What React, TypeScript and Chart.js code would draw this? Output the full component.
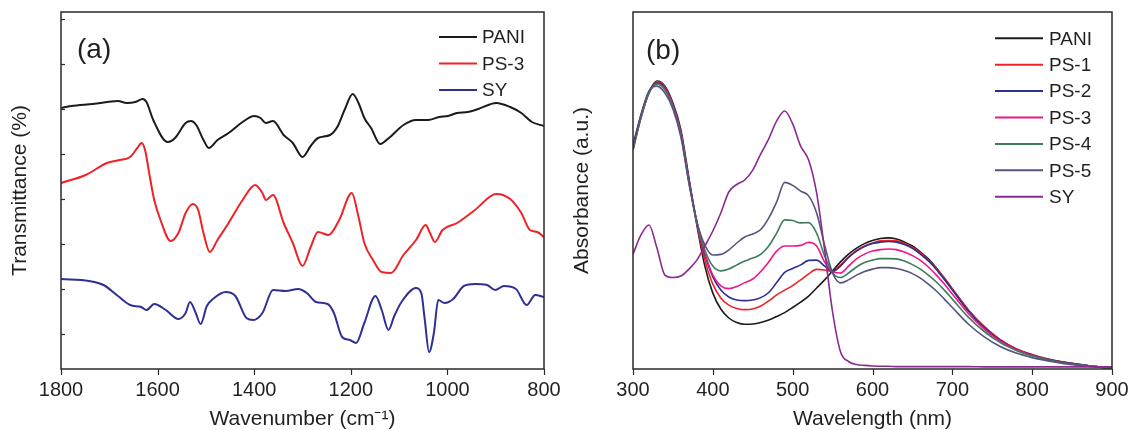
import React, { useEffect, useRef } from "react";
import { Chart, registerables } from "chart.js";

Chart.register(...registerables);

const FONT = "'Liberation Sans', Arial, Helvetica, sans-serif";
const TEXT = "#231f20";

// ---------- Panel (a): FTIR ----------
const aXTicks = [1800, 1600, 1400, 1200, 1000, 800];
const aYTicks = [0, 45, 90, 135, 180, 225, 270, 315];

const paniWn = [1800, 1779, 1734, 1682, 1664, 1646, 1631, 1623, 1609, 1579, 1564, 1542, 1531, 1520, 1505, 1494, 1476, 1453, 1424, 1400, 1387, 1376, 1361, 1339, 1320, 1300, 1283, 1268, 1243, 1228, 1213, 1196, 1184, 1172, 1158, 1139, 1121, 1091, 1065, 1040, 1017, 999, 980, 958, 936, 899, 870, 847, 825, 800];
const paniT = [226, 228, 230, 233, 231, 232, 235, 232, 214, 192, 196, 211, 213, 209, 194, 186, 194, 201, 212, 218, 216, 211, 213, 199, 191, 177, 188, 196, 199, 207, 224, 240, 231, 216, 206, 190, 196, 209, 214, 214, 217, 218, 221, 222, 225, 231, 227, 221, 212, 208];

const ps3Wn = [1800, 1749, 1705, 1679, 1657, 1642, 1633, 1626, 1616, 1607, 1594, 1573, 1557, 1542, 1527, 1516, 1505, 1492, 1476, 1453, 1424, 1398, 1383, 1376, 1361, 1339, 1320, 1300, 1283, 1268, 1246, 1224, 1198, 1184, 1172, 1154, 1136, 1117, 1091, 1065, 1045, 1036, 1026, 1010, 980, 943, 899, 870, 847, 829, 814, 800];
const ps3T = [151, 159, 171, 174, 177, 186, 191, 184, 157, 134, 114, 93, 101, 121, 130, 124, 101, 82, 94, 111, 134, 149, 141, 134, 139, 111, 91, 68, 87, 102, 99, 114, 141, 117, 91, 74, 62, 61, 79, 94, 109, 101, 92, 104, 111, 124, 140, 135, 121, 104, 102, 97];

const syWn = [1800, 1742, 1712, 1682, 1657, 1634, 1623, 1607, 1583, 1557, 1542, 1533, 1521, 1511, 1498, 1483, 1459, 1439, 1416, 1402, 1383, 1361, 1335, 1309, 1291, 1272, 1248, 1235, 1218, 1202, 1189, 1172, 1149, 1136, 1122, 1110, 1095, 1065, 1054, 1047, 1038, 1028, 1019, 1006, 988, 966, 943, 918, 901, 883, 858, 836, 818, 800];
const syT = [55, 53, 49, 38, 29, 27, 24, 30, 24, 15, 21, 32, 21, 10, 28, 36, 42, 38, 16, 14, 21, 44, 43, 45, 41, 32, 30, 21, -3, -6, -9, 11, 38, 24, 4, 18, 32, 46, 41, 15, -18, 1, 34, 31, 35, 48, 50, 49, 44, 48, 45, 29, 39, 37];

// ---------- Panel (b): UV-Vis ----------
const bXTicks = [300, 400, 500, 600, 700, 800, 900];
const wl = [300, 310, 320, 330, 340, 350, 360, 370, 380, 390, 400, 410, 420, 430, 440, 450, 460, 470, 480, 490, 500, 510, 520, 530, 540, 550, 560, 570, 580, 590, 600, 610, 620, 630, 640, 650, 660, 670, 680, 690, 700, 720, 740, 760, 780, 800, 820, 840, 860, 880, 900];
const absPani = [0.747, 0.847, 0.923, 0.960, 0.943, 0.887, 0.797, 0.637, 0.480, 0.343, 0.253, 0.200, 0.170, 0.155, 0.149, 0.150, 0.155, 0.163, 0.175, 0.188, 0.205, 0.223, 0.243, 0.270, 0.297, 0.327, 0.357, 0.383, 0.403, 0.418, 0.428, 0.435, 0.437, 0.433, 0.423, 0.410, 0.390, 0.367, 0.337, 0.303, 0.267, 0.197, 0.140, 0.097, 0.067, 0.047, 0.032, 0.022, 0.015, 0.008, 0.003];
const absPs1 = [0.737, 0.840, 0.920, 0.957, 0.940, 0.883, 0.790, 0.630, 0.483, 0.363, 0.283, 0.237, 0.213, 0.202, 0.198, 0.200, 0.210, 0.227, 0.247, 0.263, 0.278, 0.297, 0.317, 0.332, 0.330, 0.325, 0.347, 0.373, 0.395, 0.410, 0.420, 0.427, 0.428, 0.427, 0.418, 0.405, 0.387, 0.363, 0.335, 0.302, 0.267, 0.197, 0.142, 0.098, 0.068, 0.048, 0.033, 0.023, 0.015, 0.008, 0.003];
const absPs2 = [0.740, 0.843, 0.923, 0.953, 0.937, 0.880, 0.787, 0.630, 0.490, 0.380, 0.307, 0.263, 0.240, 0.230, 0.228, 0.230, 0.238, 0.255, 0.288, 0.322, 0.335, 0.347, 0.362, 0.363, 0.343, 0.325, 0.343, 0.372, 0.393, 0.408, 0.418, 0.423, 0.425, 0.423, 0.415, 0.402, 0.383, 0.360, 0.332, 0.298, 0.263, 0.193, 0.138, 0.095, 0.065, 0.047, 0.032, 0.022, 0.015, 0.008, 0.003];
const absPs3 = [0.733, 0.837, 0.920, 0.950, 0.933, 0.877, 0.783, 0.627, 0.490, 0.387, 0.313, 0.277, 0.268, 0.275, 0.288, 0.300, 0.325, 0.357, 0.393, 0.410, 0.410, 0.412, 0.422, 0.410, 0.357, 0.323, 0.320, 0.343, 0.367, 0.383, 0.393, 0.398, 0.400, 0.398, 0.390, 0.378, 0.362, 0.340, 0.313, 0.283, 0.250, 0.185, 0.133, 0.093, 0.065, 0.045, 0.030, 0.020, 0.013, 0.008, 0.003];
const absPs4 = [0.730, 0.837, 0.920, 0.950, 0.930, 0.873, 0.780, 0.623, 0.490, 0.397, 0.343, 0.327, 0.333, 0.347, 0.360, 0.370, 0.382, 0.410, 0.453, 0.497, 0.495, 0.487, 0.488, 0.453, 0.377, 0.320, 0.305, 0.320, 0.340, 0.355, 0.363, 0.368, 0.368, 0.367, 0.360, 0.348, 0.333, 0.313, 0.290, 0.263, 0.233, 0.173, 0.125, 0.088, 0.062, 0.043, 0.030, 0.020, 0.013, 0.008, 0.003];
const absPs5 = [0.730, 0.847, 0.927, 0.943, 0.920, 0.867, 0.773, 0.620, 0.490, 0.413, 0.380, 0.382, 0.397, 0.420, 0.440, 0.450, 0.465, 0.503, 0.557, 0.622, 0.612, 0.593, 0.577, 0.520, 0.413, 0.320, 0.287, 0.297, 0.313, 0.325, 0.333, 0.338, 0.338, 0.335, 0.328, 0.318, 0.303, 0.283, 0.260, 0.233, 0.205, 0.150, 0.107, 0.075, 0.053, 0.038, 0.027, 0.018, 0.012, 0.007, 0.003];
const absSy = [0.383, 0.447, 0.480, 0.403, 0.313, 0.305, 0.310, 0.333, 0.363, 0.410, 0.460, 0.520, 0.590, 0.615, 0.630, 0.663, 0.717, 0.767, 0.827, 0.860, 0.817, 0.743, 0.697, 0.587, 0.397, 0.190, 0.057, 0.025, 0.015, 0.012, 0.010, 0.009, 0.009, 0.008, 0.008, 0.008, 0.008, 0.008, 0.008, 0.008, 0.008, 0.008, 0.007, 0.007, 0.007, 0.007, 0.007, 0.007, 0.007, 0.007, 0.007];

const toPts = (xs: number[], ys: number[]) => xs.map((x, i) => ({ x, y: ys[i] }));

const framePlugin = {
  id: "frame",
  afterDatasetsDraw(chart: any, _args: any, opts: any) {
    const { ctx, chartArea, scales } = chart;
    const { left, right, top, bottom } = chartArea;
    ctx.save();
    ctx.strokeStyle = "#2a2a2a";
    ctx.lineWidth = 1.5;
    ctx.strokeRect(left, top, right - left, bottom - top);
    ctx.lineWidth = 1.2;
    (opts.xTicks || []).forEach((v: number) => {
      const px = Math.round(scales.x.getPixelForValue(v)) + 0.5;
      ctx.beginPath();
      ctx.moveTo(px, bottom);
      ctx.lineTo(px, bottom + 6);
      ctx.stroke();
    });
    (opts.yTicks || []).forEach((v: number) => {
      const py = Math.round(scales.y.getPixelForValue(v)) + 0.5;
      ctx.beginPath();
      ctx.moveTo(left, py);
      ctx.lineTo(left + 4, py);
      ctx.stroke();
    });
    // panel label
    ctx.fillStyle = TEXT;
    ctx.textBaseline = "middle";
    ctx.textAlign = "left";
    ctx.font = `28px ${FONT}`;
    ctx.fillText(opts.label, opts.labelX, opts.labelY);
    // legend
    ctx.font = `19px ${FONT}`;
    chart.data.datasets.forEach((ds: any, i: number) => {
      const y = opts.legY + i * opts.legDy;
      ctx.strokeStyle = ds.borderColor;
      ctx.lineWidth = 2;
      ctx.beginPath();
      ctx.moveTo(opts.legX1, y);
      ctx.lineTo(opts.legX2, y);
      ctx.stroke();
      ctx.fillStyle = TEXT;
      ctx.fillText(ds.label, opts.legText, y + 1);
    });
    ctx.restore();
  },
};

const tickFont = { family: FONT, size: 20 };
const titleFont = { family: FONT, size: 21, lineHeight: 1 };
const plainTick = (v: any) => String(v);

function lineDs(label: string, data: any[], color: string, width: number, order: number) {
  return {
    label,
    data,
    borderColor: color,
    backgroundColor: color,
    borderWidth: width,
    pointRadius: 0,
    cubicInterpolationMode: "monotone" as const,
    fill: false,
    order,
  };
}

function makeA(): any {
  return {
    type: "line",
    data: {
      datasets: [
        lineDs("PANI", toPts(paniWn, paniT), "#1b1b1b", 2, 3),
        lineDs("PS-3", toPts(ps3Wn, ps3T), "#ee2227", 2, 2),
        lineDs("SY", toPts(syWn, syT), "#2e3192", 2, 1),
      ],
    },
    options: {
      responsive: false,
      animation: false,
      devicePixelRatio: 1,
      layout: { padding: { left: 0, right: 21, top: 12, bottom: 0 }, autoPadding: false },
      plugins: {
        legend: { display: false },
        tooltip: { enabled: false },
        frame: {
          xTicks: aXTicks,
          yTicks: aYTicks,
          label: "(a)",
          labelX: 77,
          labelY: 50,
          legX1: 439,
          legX2: 477,
          legText: 482,
          legY: 37,
          legDy: 26.5,
        },
      },
      scales: {
        x: {
          type: "linear",
          reverse: true,
          min: 800,
          max: 1800,
          afterBuildTicks: (s: any) => {
            s.ticks = aXTicks.map((v) => ({ value: v }));
          },
          afterFit: (s: any) => {
            s.height = 61;
          },
          ticks: { autoSkip: false, maxRotation: 0, font: tickFont, color: TEXT, padding: 1, callback: plainTick },
          grid: { display: false },
          border: { display: false },
          title: { display: true, text: "Wavenumber (cm⁻¹)", font: titleFont, color: TEXT, padding: { top: 0, bottom: 0 } },
        },
        y: {
          type: "linear",
          min: -35,
          max: 322,
          afterFit: (s: any) => {
            s.width = 61;
          },
          ticks: { display: false },
          grid: { display: false },
          border: { display: false },
          title: { display: true, text: "Transmittance (%)", font: titleFont, color: TEXT, padding: { top: 10, bottom: 0 } },
        },
      },
    },
    plugins: [framePlugin],
  };
}

function makeB(): any {
  const names = ["PANI", "PS-1", "PS-2", "PS-3", "PS-4", "PS-5", "SY"];
  const series = [absPani, absPs1, absPs2, absPs3, absPs4, absPs5, absSy];
  const colors = ["#1b1b1b", "#ee2227", "#2b3090", "#ec178c", "#3e7d5a", "#55547e", "#8b2a91"];
  return {
    type: "line",
    data: {
      datasets: names.map((n, i) => lineDs(n, toPts(wl, series[i]), colors[i], 1.6, names.length - i)),
    },
    options: {
      responsive: false,
      animation: false,
      devicePixelRatio: 1,
      layout: { padding: { left: 0, right: 19, top: 12, bottom: 0 }, autoPadding: false },
      plugins: {
        legend: { display: false },
        tooltip: { enabled: false },
        frame: {
          xTicks: bXTicks,
          yTicks: [],
          label: "(b)",
          labelX: 81,
          labelY: 51,
          legX1: 430,
          legX2: 478,
          legText: 484,
          legY: 38.3,
          legDy: 26.4,
        },
      },
      scales: {
        x: {
          type: "linear",
          min: 300,
          max: 900,
          afterBuildTicks: (s: any) => {
            s.ticks = bXTicks.map((v) => ({ value: v }));
          },
          afterFit: (s: any) => {
            s.height = 61;
          },
          ticks: { autoSkip: false, maxRotation: 0, font: tickFont, color: TEXT, padding: 1, callback: plainTick },
          grid: { display: false },
          border: { display: false },
          title: { display: true, text: "Wavelength (nm)", font: titleFont, color: TEXT, padding: { top: 0, bottom: 0 } },
        },
        y: {
          type: "linear",
          min: 0,
          max: 1.19,
          afterFit: (s: any) => {
            s.width = 68;
          },
          ticks: { display: false },
          grid: { display: false },
          border: { display: false },
          title: { display: true, text: "Absorbance (a.u.)", font: titleFont, color: TEXT, padding: { top: 7, bottom: 0 } },
        },
      },
    },
    plugins: [framePlugin],
  };
}

export default function App() {
  const aRef = useRef<HTMLCanvasElement>(null);
  const bRef = useRef<HTMLCanvasElement>(null);
  useEffect(() => {
    const ca = new Chart(aRef.current as HTMLCanvasElement, makeA());
    const cb = new Chart(bRef.current as HTMLCanvasElement, makeB());
    return () => {
      ca.destroy();
      cb.destroy();
    };
  }, []);
  return (
    <div style={{ position: "fixed", left: 0, top: 0, width: 1131, height: 430, background: "#fff", overflow: "hidden" }}>
      <canvas ref={aRef} width={565} height={430} style={{ position: "absolute", left: 0, top: 0, width: 565, height: 430 }} />
      <canvas ref={bRef} width={566} height={430} style={{ position: "absolute", left: 565, top: 0, width: 566, height: 430 }} />
    </div>
  );
}
